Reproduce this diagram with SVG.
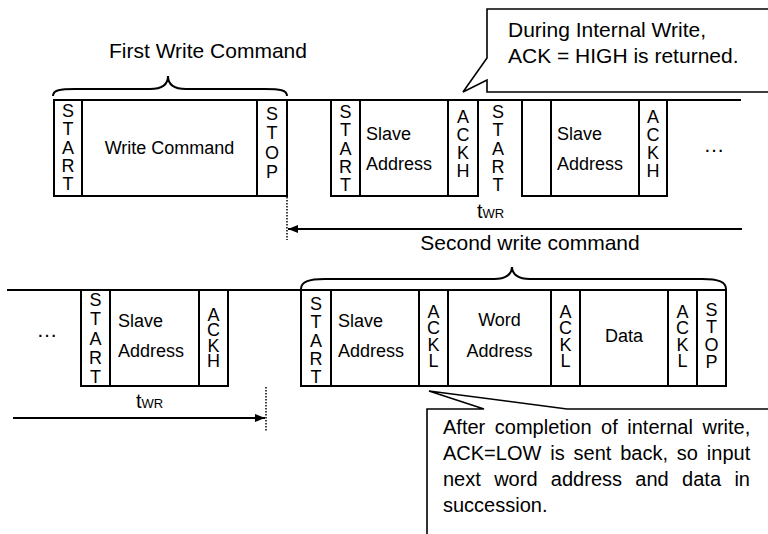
<svg xmlns="http://www.w3.org/2000/svg" width="768" height="534" viewBox="0 0 768 534">
<style>
text{font-family:"Liberation Sans",Arial,sans-serif;fill:#000}
.b{fill:#fff;stroke:#000;stroke-width:2}
.ln{stroke:#000;stroke-width:2;fill:none}
.v{font-size:18px;text-anchor:middle}
.t{font-size:18px}
.c{text-anchor:middle}
.h{font-size:21px}
.dot{stroke:#000;stroke-width:1.5;stroke-dasharray:1.5 1.5;fill:none}
.co{fill:#fff;stroke:#000;stroke-width:1.6}
</style>
<defs>
<marker id="ah" viewBox="0 0 10 8" refX="10" refY="4" markerWidth="10" markerHeight="8" markerUnits="userSpaceOnUse" orient="auto">
<path d="M0,0 L10,4 L0,8 Z" fill="#000"/>
</marker>
</defs>
<rect width="768" height="534" fill="#fff"/>

<g id="bus">
<line class="ln" x1="54" y1="100" x2="741" y2="100"/>
<line class="ln" x1="7" y1="290" x2="726" y2="290"/>
</g>

<g id="labels">
<text class="h c" x="208" y="58">First Write Command</text>
<path class="ln" stroke-width="1.8" d="M53,96 C53,90 60,89 75,89 L150,89 C162,89 168,84 168,76 C168,84 174,89 186,89 L265,89 C280,89 287,90 287,96"/>
<text class="h c" x="530" y="250">Second write command</text>
<path class="ln" stroke-width="1.8" d="M301,289 C301,282 308,279 325,279 L494,279 C506,279 512,274 512,267 C512,274 518,279 530,279 L702,279 C719,279 726,282 726,289"/>
</g>

<g id="row1">
<g id="r1-start1"><rect class="b" x="54" y="100" width="28" height="96"/>
<text class="v"><tspan x="68" y="117">S</tspan><tspan x="68" dy="18.3">T</tspan><tspan x="68" dy="18.3">A</tspan><tspan x="68" dy="18.3">R</tspan><tspan x="68" dy="18.3">T</tspan></text></g>
<g id="r1-write"><rect class="b" x="82" y="100" width="175" height="96"/>
<text class="t c" x="169.5" y="154">Write Command</text></g>
<g id="r1-stop"><rect class="b" x="257" y="100" width="30" height="96"/>
<text class="v"><tspan x="272" y="120">S</tspan><tspan x="272" dy="19.3">T</tspan><tspan x="272" dy="19.3">O</tspan><tspan x="272" dy="19.3">P</tspan></text></g>
<g id="r1-start2"><rect class="b" x="331" y="100" width="29" height="96"/>
<text class="v"><tspan x="345.5" y="118">S</tspan><tspan x="345.5" dy="18.3">T</tspan><tspan x="345.5" dy="18.3">A</tspan><tspan x="345.5" dy="18.3">R</tspan><tspan x="345.5" dy="18.3">T</tspan></text></g>
<g id="r1-slave1"><rect class="b" x="360" y="100" width="88" height="96"/>
<text class="t" x="366" y="140">Slave</text><text class="t" x="366" y="170">Address</text></g>
<g id="r1-ackh1"><rect class="b" x="448" y="100" width="30" height="96"/>
<text class="v"><tspan x="463" y="123">A</tspan><tspan x="463" dy="18">C</tspan><tspan x="463" dy="18">K</tspan><tspan x="463" dy="18">H</tspan></text></g>
<g id="r1-start3">
<text class="v"><tspan x="498" y="118">S</tspan><tspan x="498" dy="18.3">T</tspan><tspan x="498" dy="18.3">A</tspan><tspan x="498" dy="18.3">R</tspan><tspan x="498" dy="18.3">T</tspan></text></g>
<g id="r1-blank"><rect class="b" x="522" y="100" width="29" height="96"/></g>
<g id="r1-slave2"><rect class="b" x="551" y="100" width="88" height="96"/>
<text class="t" x="557" y="140">Slave</text><text class="t" x="557" y="170">Address</text></g>
<g id="r1-ackh2"><rect class="b" x="639" y="100" width="28" height="96"/>
<text class="v"><tspan x="653" y="123">A</tspan><tspan x="653" dy="18">C</tspan><tspan x="653" dy="18">K</tspan><tspan x="653" dy="18">H</tspan></text></g>
<text class="h c" x="714" y="152">…</text>
</g>

<g id="row2">
<text class="h c" x="47" y="337">…</text>
<g id="r2-start1"><rect class="b" x="81" y="290" width="29" height="96"/>
<text class="v"><tspan x="95.5" y="306">S</tspan><tspan x="95.5" dy="19.3">T</tspan><tspan x="95.5" dy="19.3">A</tspan><tspan x="95.5" dy="19.3">R</tspan><tspan x="95.5" dy="19.3">T</tspan></text></g>
<g id="r2-slave1"><rect class="b" x="110" y="290" width="89" height="96"/>
<text class="t" x="118" y="327">Slave</text><text class="t" x="118" y="357">Address</text></g>
<g id="r2-ackh"><rect class="b" x="199" y="290" width="29" height="96"/>
<text class="v"><tspan x="213.5" y="321">A</tspan><tspan x="213.5" dy="15.3">C</tspan><tspan x="213.5" dy="15.3">K</tspan><tspan x="213.5" dy="15.3">H</tspan></text></g>
<g id="r2-start2"><rect class="b" x="301" y="290" width="30" height="96"/>
<text class="v"><tspan x="316" y="310">S</tspan><tspan x="316" dy="18.3">T</tspan><tspan x="316" dy="18.3">A</tspan><tspan x="316" dy="18.3">R</tspan><tspan x="316" dy="18.3">T</tspan></text></g>
<g id="r2-slave2"><rect class="b" x="331" y="290" width="88" height="96"/>
<text class="t" x="338" y="327">Slave</text><text class="t" x="338" y="357">Address</text></g>
<g id="r2-ackl1"><rect class="b" x="419" y="290" width="29" height="96"/>
<text class="v"><tspan x="433.5" y="318">A</tspan><tspan x="433.5" dy="16.3">C</tspan><tspan x="433.5" dy="16.3">K</tspan><tspan x="433.5" dy="16.3">L</tspan></text></g>
<g id="r2-word"><rect class="b" x="448" y="290" width="103" height="96"/>
<text class="t c" x="499.5" y="326">Word</text><text class="t c" x="499.5" y="357">Address</text></g>
<g id="r2-ackl2"><rect class="b" x="551" y="290" width="29" height="96"/>
<text class="v"><tspan x="565.5" y="318">A</tspan><tspan x="565.5" dy="16.3">C</tspan><tspan x="565.5" dy="16.3">K</tspan><tspan x="565.5" dy="16.3">L</tspan></text></g>
<g id="r2-data"><rect class="b" x="580" y="290" width="88" height="96"/>
<text class="t c" x="624" y="342">Data</text></g>
<g id="r2-ackl3"><rect class="b" x="668" y="290" width="29" height="96"/>
<text class="v"><tspan x="682.5" y="318">A</tspan><tspan x="682.5" dy="16.3">C</tspan><tspan x="682.5" dy="16.3">K</tspan><tspan x="682.5" dy="16.3">L</tspan></text></g>
<g id="r2-stop"><rect class="b" x="697" y="290" width="29" height="96"/>
<text class="v"><tspan x="711.5" y="316">S</tspan><tspan x="711.5" dy="17.3">T</tspan><tspan x="711.5" dy="17.3">O</tspan><tspan x="711.5" dy="17.3">P</tspan></text></g>
</g>

<g id="connectors">
<line class="dot" x1="287" y1="197" x2="287" y2="240"/>
<line class="ln" x1="742" y1="229" x2="288" y2="229" marker-end="url(#ah)"/>
<text x="477" y="218" font-size="20">t<tspan font-size="13">WR</tspan></text>
<line class="dot" x1="266" y1="387" x2="266" y2="432"/>
<line class="ln" x1="13" y1="418" x2="265" y2="418" marker-end="url(#ah)"/>
<text x="136" y="408" font-size="20">t<tspan font-size="13">WR</tspan></text>
</g>

<g id="callout1">
<path class="co" d="M770,9 L487,9 L487,58 L463,92 L487,80 L487,92 L770,92"/>
<text class="h" x="508" y="37">During Internal Write,</text>
<text class="h" x="508" y="63">ACK = HIGH is returned.</text>
</g>

<g id="callout2">
<path class="co" d="M427,540 L427,409 L484,409 L429,391 L567,409 L770,409"/>
<text font-size="20" x="443" y="434" word-spacing="4">After completion of internal write,</text>
<text font-size="20" x="443" y="460" word-spacing="3.3">ACK=LOW is sent back, so input</text>
<text font-size="20" x="443" y="486" word-spacing="7.8">next word address and data in</text>
<text font-size="20" x="443" y="512">succession.</text>
</g>
</svg>
